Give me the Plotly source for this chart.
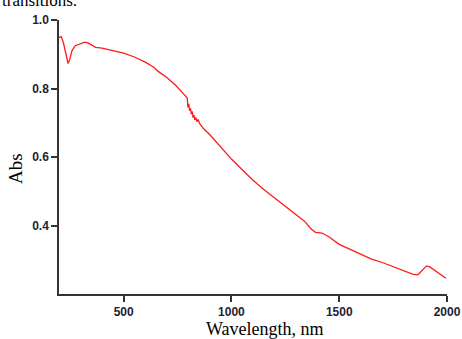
import plotly.graph_objects as go

wavelength = [200, 210, 220, 230, 242, 250, 260, 275, 300, 320, 335, 350, 370, 400, 450, 500,
              550, 600, 640, 660, 700, 740, 780, 795, 798, 802, 806, 810, 814, 818, 822, 826,
              830, 835, 840, 846, 852, 860, 870, 900, 950, 1000, 1050, 1100, 1150, 1200, 1250,
              1300, 1340, 1370, 1390, 1420, 1450, 1500, 1550, 1600, 1650, 1700, 1750, 1800,
              1840, 1865, 1885, 1905, 1920, 1950, 1995]
absorbance = [0.948, 0.952, 0.935, 0.905, 0.873, 0.885, 0.910, 0.925, 0.930, 0.935, 0.933, 0.928,
              0.920, 0.918, 0.911, 0.903, 0.892, 0.877, 0.862, 0.850, 0.832, 0.810, 0.783, 0.772,
              0.745, 0.755, 0.735, 0.742, 0.725, 0.733, 0.715, 0.722, 0.708, 0.715, 0.703, 0.710,
              0.698, 0.692, 0.683, 0.665, 0.628, 0.594, 0.563, 0.532, 0.505, 0.480, 0.455, 0.432,
              0.412, 0.390, 0.380, 0.378, 0.368, 0.345, 0.330, 0.315, 0.302, 0.292, 0.280, 0.266,
              0.258, 0.256, 0.268, 0.282, 0.279, 0.265, 0.246]

x_ticks = [500, 1000, 1500, 2000]
x_tick_labels = ["<b>500</b>", "<b>1000</b>", "<b>1500</b>", "<b>2000</b>"]
y_ticks = [0.4, 0.6, 0.8, 1.0]
y_tick_labels = ["<b>0.4</b>", "<b>0.6</b>", "<b>0.8</b>", "<b>1.0</b>"]

fig = go.Figure()
fig.add_trace(go.Scatter(x=wavelength, y=absorbance, mode="lines",
                         line=dict(color="#ff1a1a", width=1.3), showlegend=False))

axis_common = dict(showline=True, linecolor="#333333", linewidth=1.5, ticks="outside",
                   ticklen=6, tickwidth=1.5, tickcolor="#333333", showgrid=False, zeroline=False,
                   automargin=False,
                   tickfont=dict(family="Liberation Sans", size=12, color="#1c2333"))

fig.update_xaxes(range=[200, 2000], tickvals=x_ticks, ticktext=x_tick_labels, **axis_common)
fig.update_yaxes(range=[0.2, 1.0], tickvals=y_ticks, ticktext=y_tick_labels, **axis_common)

fig.update_layout(
    width=462, height=339,
    margin=dict(l=59, r=15, t=20, b=45),
    plot_bgcolor="white", paper_bgcolor="white",
    font=dict(family="Liberation Sans", size=12, color="#1c2333"),
    annotations=[
        dict(text="Wavelength, nm", xref="paper", yref="paper", x=0.53,
             y=0, xanchor="center", yanchor="middle", yshift=-35, showarrow=False,
             font=dict(family="Liberation Serif", size=18, color="black")),
        dict(text="Abs", xref="paper", yref="paper", x=0, y=0.456, xanchor="center",
             yanchor="middle", xshift=-44, textangle=-90, showarrow=False,
             font=dict(family="Liberation Serif", size=19, color="black")),
        dict(text="transitions.", xref="paper", yref="paper", x=0, y=1, xanchor="left",
             yanchor="bottom", xshift=-59, yshift=8, showarrow=False,
             font=dict(family="Liberation Serif", size=17, color="black")),
    ],
)

fig.write_html("out.html")
